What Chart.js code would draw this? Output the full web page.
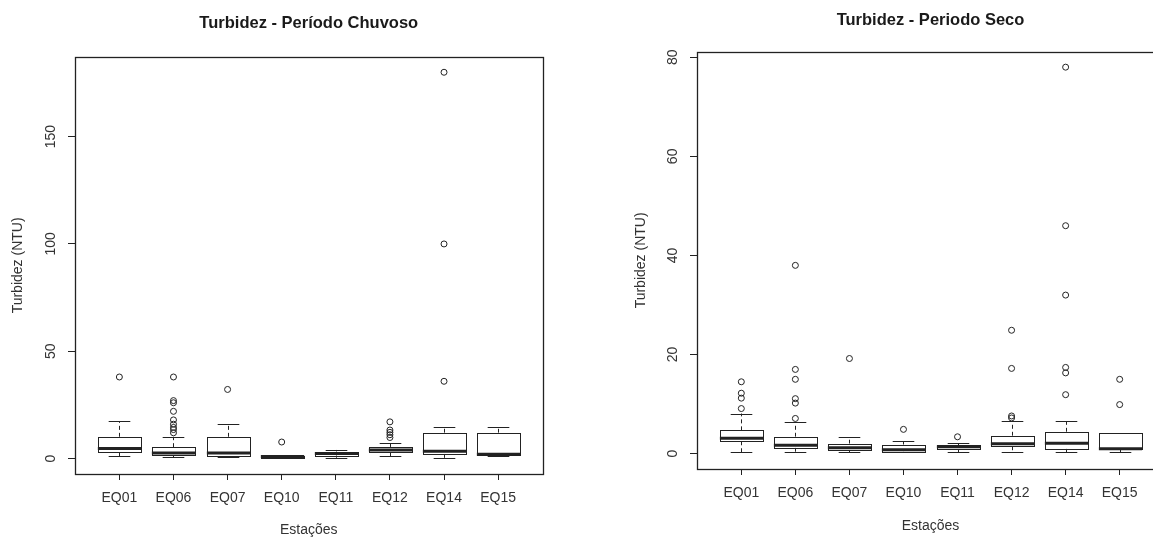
<!DOCTYPE html>
<html>
<head>
<meta charset="utf-8">
<script src="https://cdn.jsdelivr.net/npm/chart.js@4.4.0/dist/chart.umd.min.js"></script>
<style>
    html, body { margin: 0; padding: 0; background: #fff; overflow: hidden; width: 1153px; height: 539px; }
    canvas { position: absolute; top: 0; }
    #rainChart { left: 0; }
    #dryChart { left: 580px; }
</style>
</head>
<body>
<canvas id="rainChart" width="580" height="539"></canvas>
<canvas id="dryChart" width="600" height="539"></canvas>
<script>
// Stations
const categories = ['EQ01', 'EQ06', 'EQ07', 'EQ10', 'EQ11', 'EQ12', 'EQ14', 'EQ15'];

// Período Chuvoso (NTU)
const rainLow  = [1.1, 0.6, 0.6, 0.4, 0.4, 1.1, 0.3, 1.1];
const rainQ1   = [3.0, 1.7, 1.1, 0.7, 1.5, 3.0, 2.2, 1.6];
const rainMed  = [4.7, 2.6, 2.6, 1.0, 2.3, 4.0, 3.4, 2.0];
const rainQ3   = [10.1, 5.3, 10.1, 1.4, 3.2, 5.4, 12.0, 12.0];
const rainHigh = [17.3, 10.1, 16.0, 1.6, 4.0, 7.1, 14.9, 14.9];
const rainOut  = [[38], [38, 27, 26, 22, 18, 16, 14.5, 13.5, 12], [32.2], [7.7], [], [17.1, 13.3, 12.2, 11.1, 9.8], [36, 100, 180], []];
const rainTicks = [0, 50, 100, 150];

// Período Seco (NTU)
const dryLow  = [0.3, 0.3, 0.3, 0.3, 0.3, 0.3, 0.3, 0.3];
const dryQ1   = [2.5, 1.2, 0.7, 0.4, 0.9, 1.5, 1.0, 0.9];
const dryMed  = [3.1, 1.7, 1.2, 0.8, 1.4, 2.0, 2.1, 1.0];
const dryQ3   = [4.7, 3.4, 2.0, 1.8, 1.7, 3.6, 4.4, 4.1];
const dryHigh = [8.1, 6.3, 3.3, 2.5, 2.1, 6.5, 6.5, 4.1];
const dryOut  = [[14.5, 12.2, 11.2, 9.1], [38, 17, 15, 11.1, 10.2, 7.1], [19.2], [4.9], [3.4], [24.9, 17.2, 7.6, 7.2], [78, 46, 32, 17.4, 16.3, 11.9], [15, 9.9]];
const dryTicks = [0, 20, 40, 60, 80];

Chart.defaults.font.family = '"Liberation Sans", Arial, sans-serif';
Chart.defaults.color = '#333';

const LINE = '#222';

function makeBoxPlugin(stats) {
    return {
        id: 'boxes',
        beforeDatasetsDraw(chart) {
            const { ctx } = chart;
            const xs = chart.scales.x, ys = chart.scales.y;
            ctx.save();
            ctx.strokeStyle = LINE;
            ctx.lineWidth = 1;
            stats.med.forEach((m, i) => {
                const xc = Math.round(xs.getPixelForValue(i + 1)) + 0.5;
                const half = xs.getPixelForValue(i + 1.4) - xs.getPixelForValue(i + 1);
                const yLow = ys.getPixelForValue(stats.low[i]);
                const yQ1 = ys.getPixelForValue(stats.q1[i]);
                const yMed = ys.getPixelForValue(m);
                const yQ3 = ys.getPixelForValue(stats.q3[i]);
                const yHigh = ys.getPixelForValue(stats.high[i]);

                // whiskers (dashed)
                ctx.setLineDash([4, 3]);
                ctx.beginPath();
                ctx.moveTo(xc, yQ3); ctx.lineTo(xc, yHigh);
                ctx.moveTo(xc, yQ1); ctx.lineTo(xc, yLow);
                ctx.stroke();
                ctx.setLineDash([]);

                // staples
                ctx.beginPath();
                ctx.moveTo(xc - half / 2, Math.round(yHigh) + 0.5); ctx.lineTo(xc + half / 2, Math.round(yHigh) + 0.5);
                ctx.moveTo(xc - half / 2, Math.round(yLow) + 0.5); ctx.lineTo(xc + half / 2, Math.round(yLow) + 0.5);
                ctx.stroke();

                // box
                ctx.fillStyle = '#fff';
                ctx.fillRect(xc - half, yQ3, half * 2, yQ1 - yQ3);
                ctx.strokeRect(Math.round(xc - half) + 0.5, Math.round(yQ3) + 0.5, Math.round(half * 2), Math.round(yQ1 - yQ3));

                // median
                ctx.lineWidth = 3;
                ctx.beginPath();
                ctx.moveTo(xc - half, yMed); ctx.lineTo(xc + half, yMed);
                ctx.stroke();
                ctx.lineWidth = 1;
            });
            ctx.restore();
        },
        afterDraw(chart) {
            const { ctx, chartArea: a } = chart;
            ctx.save();
            ctx.strokeStyle = LINE;
            ctx.lineWidth = 1.3;
            ctx.strokeRect(Math.round(a.left) + 0.5, Math.round(a.top) + 0.5, Math.round(a.right - a.left), Math.round(a.bottom - a.top));
            ctx.restore();
        }
    };
}

function buildBoxChart(canvasId, cfg) {
    const points = [];
    cfg.outliers.forEach((list, i) => list.forEach(v => points.push({ x: i + 1, y: v })));

    return new Chart(document.getElementById(canvasId), {
        type: 'scatter',
        data: {
            datasets: [{
                data: points,
                pointStyle: 'circle',
                pointRadius: 3,
                pointBorderWidth: 1,
                borderColor: LINE,
                backgroundColor: 'rgba(0,0,0,0)'
            }]
        },
        plugins: [makeBoxPlugin(cfg.stats)],
        options: {
            responsive: false,
            animation: false,
            layout: { padding: { left: 0, right: cfg.padRight, top: 0, bottom: 0 } },
            plugins: {
                legend: { display: false },
                tooltip: { enabled: false },
                title: {
                    display: true,
                    text: cfg.title,
                    fullSize: false,
                    color: '#1a1a1a',
                    font: { size: 16.5, weight: 'bold' },
                    padding: cfg.titlePad
                }
            },
            scales: {
                x: {
                    type: 'linear',
                    min: 0.18,
                    max: 8.82,
                    afterBuildTicks: s => { s.ticks = categories.map((c, i) => ({ value: i + 1 })); },
                    afterFit: s => { s.height = cfg.xHeight; },
                    grid: { display: true, drawOnChartArea: false, drawTicks: true, tickLength: 6, color: LINE },
                    border: { display: false },
                    ticks: {
                        callback: v => categories[v - 1],
                        font: { size: 14 },
                        padding: 9.6,
                        maxRotation: 0,
                        autoSkip: false
                    },
                    title: {
                        display: true,
                        text: 'Estações',
                        font: { size: 14 },
                        padding: { top: 0, bottom: cfg.xTitlePad }
                    }
                },
                y: {
                    min: cfg.yMin,
                    max: cfg.yMax,
                    afterBuildTicks: s => { s.ticks = cfg.ticks.map(v => ({ value: v })); },
                    afterFit: s => { s.width = cfg.yWidth; },
                    grid: { display: true, drawOnChartArea: false, drawTicks: true, tickLength: 7, color: LINE },
                    border: { display: false },
                    ticks: {
                        font: { size: 14 },
                        minRotation: 90,
                        maxRotation: 90,
                        crossAlign: 'center',
                        padding: cfg.yTickPad
                    },
                    title: {
                        display: true,
                        text: 'Turbidez (NTU)',
                        font: { size: 14 },
                        padding: { top: cfg.yTitlePad, bottom: 0 }
                    }
                }
            }
        }
    });
}

buildBoxChart('rainChart', {
    title: 'Turbidez - Período Chuvoso',
    stats: { low: rainLow, q1: rainQ1, med: rainMed, q3: rainQ3, high: rainHigh },
    outliers: rainOut,
    ticks: rainTicks,
    yMin: -7.2, yMax: 187.2,
    padRight: 37.5,
    yWidth: 75, xHeight: 65,
    titlePad: { top: 14, bottom: 23 },
    yTitlePad: 9.6, yTickPad: 5.3, xTitlePad: 0
});

buildBoxChart('dryChart', {
    title: 'Turbidez - Periodo Seco',
    stats: { low: dryLow, q1: dryQ1, med: dryMed, q3: dryQ3, high: dryHigh },
    outliers: dryOut,
    ticks: dryTicks,
    yMin: -3.1, yMax: 81.1,
    padRight: 16,
    yWidth: 117, xHeight: 70,
    titlePad: { top: 11, bottom: 21 },
    yTitlePad: 52.6, yTickPad: 9.2, xTitlePad: 4
});
</script>
</body>
</html>
